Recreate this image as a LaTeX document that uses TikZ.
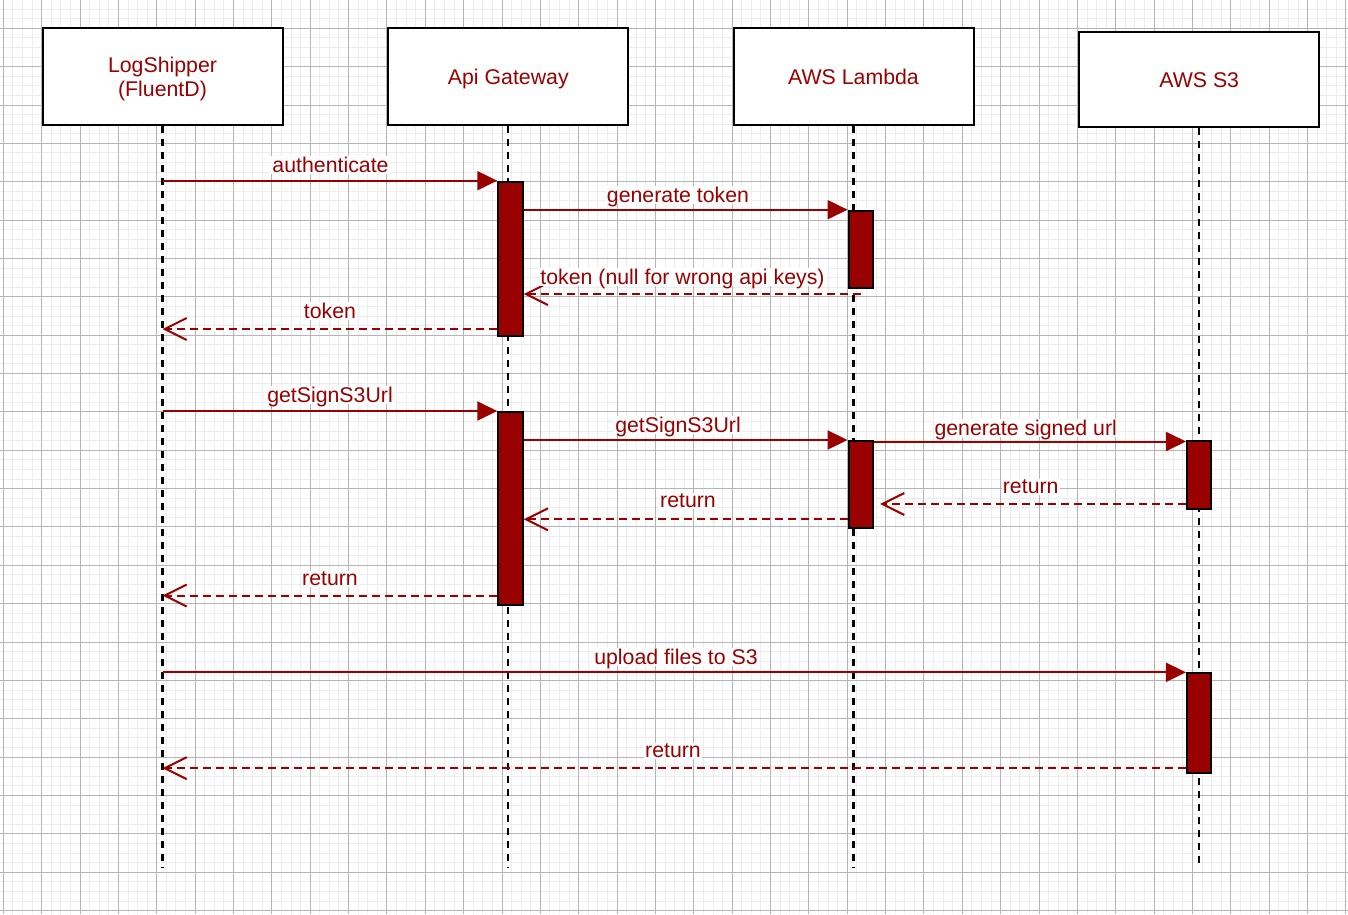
\documentclass[tikz,border=0pt]{standalone}
\usepackage{fontspec}
\setmainfont{Liberation Sans}
\usetikzlibrary{arrows.meta}
\definecolor{dred}{HTML}{990000}
\definecolor{gmaj}{HTML}{B5B5B5}
\definecolor{gmin}{HTML}{EDEDED}
\begin{document}
\begin{tikzpicture}[x=1pt,y=-1pt,
  font=\fontsize{21.3}{24}\selectfont,
  actor/.style={draw=black, line width=2pt, fill=white, minimum width=240pt, minimum height=96.5pt, text=dred, align=center, inner sep=0pt, text depth=0pt},
  lifeline/.style={draw=black, line width=2.2pt, dash pattern=on 7pt off 6pt},
  actbar/.style={draw=black, line width=2pt, fill=dred, minimum width=24.5pt, inner sep=0pt},
  msg/.style={draw=dred, line width=2pt, -{Triangle[length=20pt,width=19pt]}},
  ret/.style={draw=dred, line width=2pt, dash pattern=on 8pt off 5pt, -{Straight Barb[length=22pt,width=22pt]}},
  lbl/.style={fill=white, text=dred, inner sep=1pt, text depth=0pt},
  gminor/.style={draw=gmin, line width=1pt},
  gmajor/.style={draw=gmaj, line width=1pt}]
\useasboundingbox (0,0) rectangle (1348,914);
\fill[white] (0,0) rectangle (1348,914);
\begin{scope}
\clip (0,0) rectangle (1348,914);
\foreach \i in {0,...,140} {\draw[gminor] ({3.34+\i*9.59},0) -- ({3.34+\i*9.59},914);}
\foreach \i in {0,...,96} {\draw[gminor] (0,{-10.06+\i*9.59}) -- (1348,{-10.06+\i*9.59});}
\foreach \i in {0,...,35} {\draw[gmajor] ({3.34+\i*38.36},0) -- ({3.34+\i*38.36},914);}
\foreach \i in {0,...,24} {\draw[gmajor] (0,{-10.06+\i*38.36}) -- (1348,{-10.06+\i*38.36});}
\end{scope}

% actors
\node[actor] (ls) at (162.5,76.7) {LogShipper\\(FluentD)};
\node[actor] (ag) at (508.3,76.7) {Api Gateway};
\node[actor] (al) at (853.5,76.7) {AWS Lambda};
\node[actor, minimum height=95pt] (s3) at (1199.2,79.7) {AWS S3};

% lifelines
\coordinate (bottom) at (0,868);
\draw[lifeline] (ls.south) -- (ls.south |- bottom);
\draw[lifeline] (ag.south) -- (ag.south |- bottom);
\draw[lifeline] (al.south) -- (al.south |- bottom);
\draw[lifeline] (s3.south) -- (s3.south |- bottom);

% activation bars
\node[actbar, minimum height=154.3pt] (g1) at (510.5,258.85) {};
\node[actbar, minimum height=77pt] (l1) at (860.8,249.2) {};
\node[actbar, minimum height=193pt] (g2) at (510.5,508.5) {};
\node[actbar, minimum height=87.3pt] (l2) at (860.8,484.65) {};
\node[actbar, minimum height=68pt] (s1) at (1199.2,475) {};
\node[actbar, minimum height=99.4pt] (s2) at (1199.2,723) {};

% messages
\draw[msg] (ls.south |- g1.north) -- (g1.north west);
\draw[msg] (g1.east |- l1.north) -- (l1.north west);
\coordinate (r3) at (860.8,294);
\draw[ret] (r3) -- (g1.east |- r3);
\coordinate (r4) at ([yshift=8pt]g1.south west);
\draw[ret] (r4) -- (ls.south |- r4);
\draw[msg] (ls.south |- g2.north) -- (g2.north west);
\draw[msg] (g2.east |- l2.north) -- (l2.north west);
\draw[msg] ([yshift=-1.5pt]l2.north east) -- ([yshift=-1.5pt]s1.north west);
\coordinate (r8) at ([yshift=6pt]s1.south west);
\draw[ret, shorten >=6pt] (r8) -- (l2.east |- r8);
\coordinate (r9) at ([yshift=10pt]l2.south west);
\draw[ret] (r9) -- (g2.east |- r9);
\coordinate (r10) at ([yshift=10.5pt]g2.south west);
\draw[ret] (r10) -- (ls.south |- r10);
\draw[msg] (ls.south |- s2.north) -- (s2.north west);
\coordinate (r12) at ([yshift=5.5pt]s2.south west);
\draw[ret] (r12) -- (ls.south |- r12);

% labels
\node[lbl] (la1) at (330.5,165) {authenticate};
\node[lbl] (la2) at (678,195) {generate token};
\node[lbl] (la3) at (682.5,277) {token (null for wrong api keys)};
\node[lbl] (la4) at (330,311) {token};
\node[lbl] (la5) at (330,395) {getSignS3Url};
\node[lbl] (la6) at (678,425) {getSignS3Url};
\node[lbl] (la7) at (1025.7,428) {generate signed url};
\node[lbl] (la8) at (1030.7,487) {return};
\node[lbl] (la9) at (688,501) {return};
\node[lbl] (la10) at (330,579) {return};
\node[lbl] (la11) at (676,657) {upload files to S3};
\node[lbl] (la12) at (673,751) {return};
\end{tikzpicture}
\end{document}
